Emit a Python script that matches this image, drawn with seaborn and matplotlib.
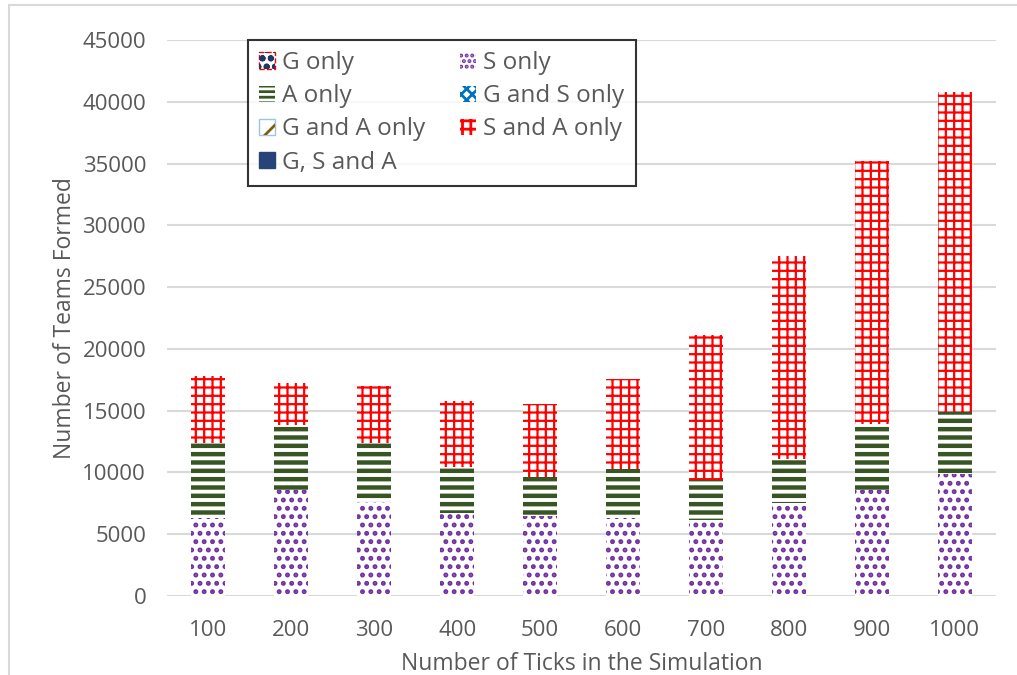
import numpy as np
import pandas as pd
import matplotlib
matplotlib.use("Agg")
import matplotlib.pyplot as plt
from matplotlib.patches import Patch, Rectangle
from matplotlib.legend_handler import HandlerTuple
import seaborn as sns

# Team counts per simulation length
ticks = ["100", "200", "300", "400", "500", "600", "700", "800", "900", "1000"]
g_only = [0, 0, 0, 0, 0, 0, 0, 0, 0, 0]
s_only = [6300, 8600, 7600, 6700, 6500, 6300, 6150, 7500, 8600, 9850]
a_only = [6100, 5200, 4800, 3750, 3150, 3950, 3250, 3600, 5300, 5050]
g_and_s = [0, 0, 0, 0, 0, 0, 0, 0, 0, 0]
g_and_a = [0, 0, 0, 0, 0, 0, 0, 0, 0, 0]
s_and_a = [5400, 3400, 4600, 5350, 5850, 7350, 11700, 16400, 21300, 25900]
g_s_a = [0, 0, 0, 0, 0, 0, 0, 0, 0, 0]

sns.set_theme(style="white")
plt.rcParams["font.family"] = ["Open Sans", "DejaVu Sans"]
TXT = "#595959"

# stacking order (bottom to top) with hatch styling
series = [
    ("G only", g_only, "#c00000", "o", 1.0),
    ("S only", s_only, "#7030a0", "..", 2.3),
    ("A only", a_only, "#375623", "--", 3.2),
    ("G and S only", g_and_s, "#0070c0", "xx", 1.5),
    ("G and A only", g_and_a, "#806000", "//", 2.0),
    ("S and A only", s_and_a, "#ff0000", "++", 1.6),
    ("G, S and A", g_s_a, "#264478", "", 1.0),
]

fig = plt.figure(figsize=(10.17, 6.75), dpi=100)
ax = fig.add_axes([167 / 1017, 1 - 596 / 675, (996 - 167) / 1017, (596 - 40) / 675])

cum = np.zeros(len(ticks))
tops = []
for name, vals, col, hatch, hlw in series:
    cum = cum + np.asarray(vals, dtype=float)
    tops.append(cum.copy())

# draw cumulative tops from the highest layer down, each covering the one above
for (name, vals, col, hatch, hlw), top in reversed(list(zip(series, tops))):
    if not np.any(vals):
        continue
    df = pd.DataFrame({"ticks": ticks, "top": top})
    with plt.rc_context({"hatch.linewidth": hlw}):
        n0 = len(ax.patches)
        sns.barplot(data=df, x="ticks", y="top", ax=ax, width=0.41,
                    facecolor="white", edgecolor=col, linewidth=0,
                    hatch=hatch, errorbar=None)
        for p in ax.patches[n0:]:
            if hasattr(p, "set_hatch_linewidth"):
                p.set_hatch_linewidth(hlw)

ax.set_xlim(-0.5, 9.5)
ax.set_ylim(0, 45000)
ax.set_yticks(np.arange(0, 45001, 5000))
ax.yaxis.grid(True, color="#d9d9d9", linewidth=1.5)
ax.set_axisbelow(True)
for s in ax.spines.values():
    s.set_visible(False)
ax.tick_params(axis="both", length=0, labelsize=16, labelcolor=TXT)
ax.tick_params(axis="y", pad=15)
ax.tick_params(axis="x", pad=17)
ax.set_xlabel("Number of Ticks in the Simulation", fontsize=16.5, color=TXT, labelpad=8)
ax.set_ylabel("Number of Teams Formed", fontsize=16.5, color=TXT, labelpad=4)

# legend (hatch line width applies to the swatches created below)
with plt.rc_context({"hatch.linewidth": 2.0}):
    h_g = (Patch(facecolor="white", edgecolor="#ff0000", linestyle="--", linewidth=1.0),
           Patch(facecolor="none", edgecolor="#1f3864", hatch="oo", linewidth=0))
    h_s = Patch(facecolor="white", edgecolor="#7030a0", hatch="...", linewidth=0)
    h_a = Patch(facecolor="white", edgecolor="#375623", hatch="---", linewidth=0)
    h_gs = Patch(facecolor="white", edgecolor="#0070c0", hatch="xxx", linewidth=0)
    h_ga = (Patch(facecolor="white", edgecolor="#9dc3e6", linewidth=1.0),
            Patch(facecolor="none", edgecolor="#806000", hatch="/", linewidth=0))
    h_sa = Patch(facecolor="white", edgecolor="#ff0000", hatch="++", linewidth=0)
    h_gsa = Patch(facecolor="#264478", edgecolor="#264478")
    handles = [h_g, h_a, h_ga, h_gsa, h_s, h_gs, h_sa]
    labels = ["G only", "A only", "G and A only", "G, S and A",
              "S only", "G and S only", "S and A only"]
    leg = ax.legend(handles, labels, ncol=2, loc="upper left",
                    bbox_to_anchor=((248 - 167) / (996 - 167), 1.0),
                    borderaxespad=0.0,
                    fontsize=17.5, frameon=True, fancybox=False, edgecolor="black",
                    handlelength=0.65, handleheight=0.65, handletextpad=0.3,
                    columnspacing=1.45, labelspacing=0.38, borderpad=0.45,
                    handler_map={tuple: HandlerTuple(ndivide=1, pad=0)})
leg.get_frame().set_linewidth(1.5)
for t in leg.get_texts():
    t.set_color(TXT)

# chart area border
fig.patches.append(Rectangle((9 / 1017, -0.05), 1.2, 1 - 5 / 675 + 0.05,
                             transform=fig.transFigure, fill=False,
                             edgecolor="#d9d9d9", linewidth=1.5))

fig.savefig("out.png", dpi=100, facecolor="white")
